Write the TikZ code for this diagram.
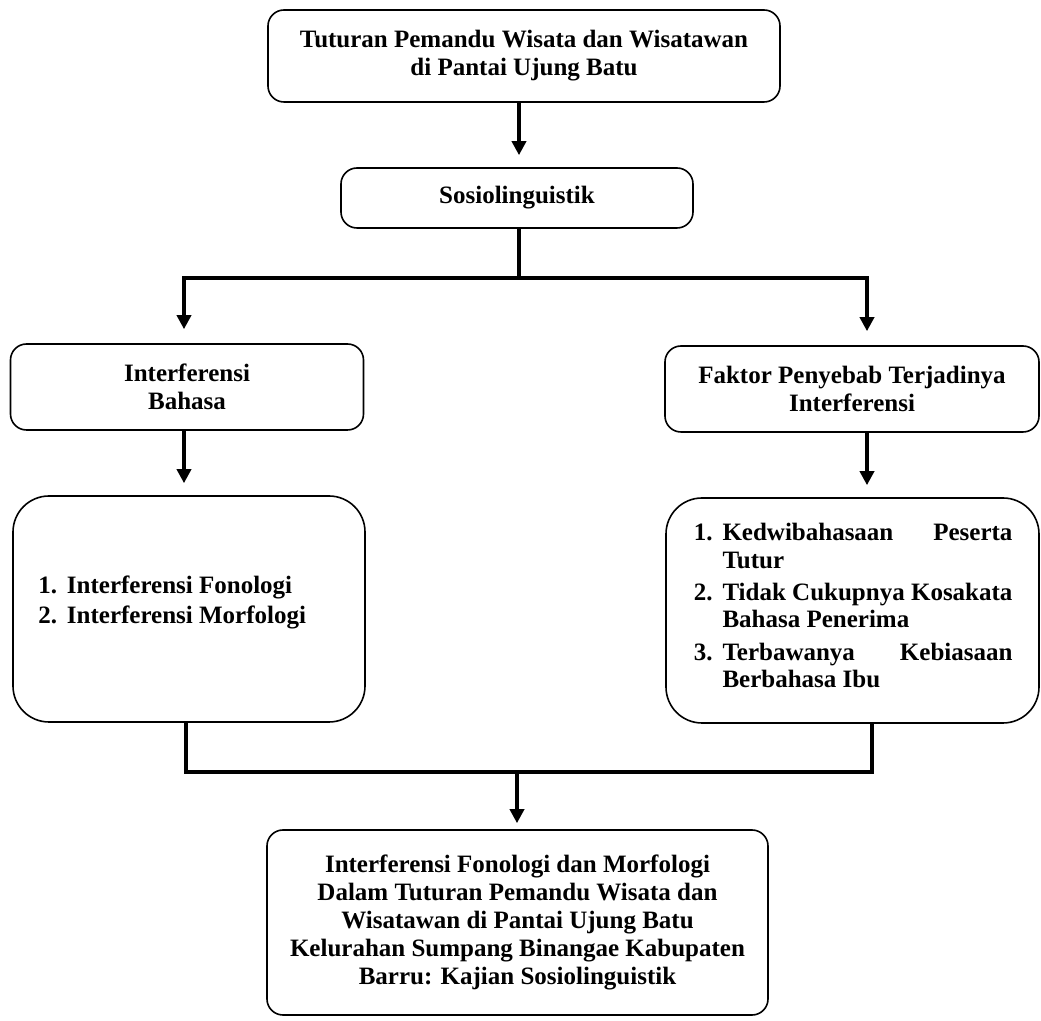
\documentclass[tikz,border=0pt]{standalone}
\usepackage{fontspec}
\setmainfont{Liberation Serif}
\usepackage{enumitem}
\usetikzlibrary{arrows.meta}
\usetikzlibrary{calc}
\hyphenpenalty=10000
\exhyphenpenalty=10000
\tolerance=10000

\begin{document}
\begin{tikzpicture}
[x=0.5pt,y=-0.5pt,
  boxdecorate/.style={shape=rectangle,rounded corners=8pt,draw,line width=0.8pt,%
    font=\fontsize{12.5}{14}\selectfont\bfseries,align=center,inner sep=0pt},
  listdecorate/.style={boxdecorate,rounded corners=18pt,align=justify},
  linedecorate/.style={-,line width=2pt},
  arrowdecorate/.style={-{Triangle[width=7pt,length=7pt]},line width=2pt}]
\useasboundingbox (0,0) rectangle (1041,1021);
%% boxes
\node (tutur) at (524,56) [boxdecorate,minimum width=256pt,minimum height=46pt]
  {Tuturan Pemandu Wisata dan Wisatawan\\di Pantai Ujung Batu};
\node (sosio) at (517,198) [boxdecorate,minimum width=176pt,minimum height=30pt]
  {Sosiolinguistik};
\node (bahasa) at (187,387) [boxdecorate,minimum width=176.5pt,minimum height=43pt]
  {Interferensi\\Bahasa};
\node (faktor) at (852,389) [boxdecorate,minimum width=187pt,minimum height=43pt]
  {Faktor Penyebab Terjadinya\\Interferensi};
\node (jenis) at (189,609) [listdecorate,text width=152pt,minimum width=176pt,minimum height=113pt]
  {\begin{enumerate}[leftmargin=15pt,labelsep=5pt,itemsep=1pt,topsep=0pt,parsep=0pt,partopsep=0pt]
    \item Interferensi Fonologi
    \item Interferensi Morfologi
  \end{enumerate}\par\mbox{}};
\node (sebab) at (852.5,610.5) [listdecorate,text width=160pt,minimum width=186.5pt,minimum height=112.5pt]
  {\fontsize{12.5}{13.6}\selectfont
  \begin{enumerate}[leftmargin=15pt,labelsep=5pt,itemsep=2.6pt,topsep=0pt,parsep=0pt,partopsep=0pt]
    \item Kedwibahasaan Peserta Tutur
    \item Tidak Cukupnya Kosakata Bahasa Penerima
    \item Terbawanya Kebiasaan Berbahasa Ibu
  \end{enumerate}\par\vspace*{-4pt}\mbox{}};
\node (hasil) at (517.5,922.5) [boxdecorate,minimum width=250.5pt,minimum height=92.5pt]
  {Interferensi Fonologi dan Morfologi\\Dalam Tuturan Pemandu Wisata dan\\
   Wisatawan di Pantai Ujung Batu\\Kelurahan Sumpang Binangae Kabupaten\\
   Barru: Kajian Sosiolinguistik};
%% branch and merge points
\coordinate (split) at (519,278);
\coordinate (lbranch) at (184,278);
\coordinate (rbranch) at (867,278);
\coordinate (merge) at (517,772);
\coordinate (lmerge) at (186,772);
\coordinate (rmerge) at (872,772);
%% lines
\draw[arrowdecorate,shorten >=6pt] (tutur.south -| split) -- (sosio.north -| split);
\draw[linedecorate] (sosio.south -| split) -- (split);
\draw[arrowdecorate,shorten >=7pt] (split) -| (bahasa.north -| lbranch);
\draw[arrowdecorate,shorten >=7pt] (split) -| (faktor.north -| rbranch);
\foreach \startnode/\endnode/\xpos in {bahasa/jenis/lbranch, faktor/sebab/rbranch}
{
  \draw[arrowdecorate,shorten >=6pt] (\startnode.south -| \xpos) -- (\endnode.north -| \xpos);
}
\draw[linedecorate] (jenis.south -| lmerge) -- (lmerge) -- (rmerge) -- (sebab.south -| rmerge);
\draw[arrowdecorate,shorten >=3pt] (merge) -- (hasil.north -| merge);
\end{tikzpicture}
\end{document}
